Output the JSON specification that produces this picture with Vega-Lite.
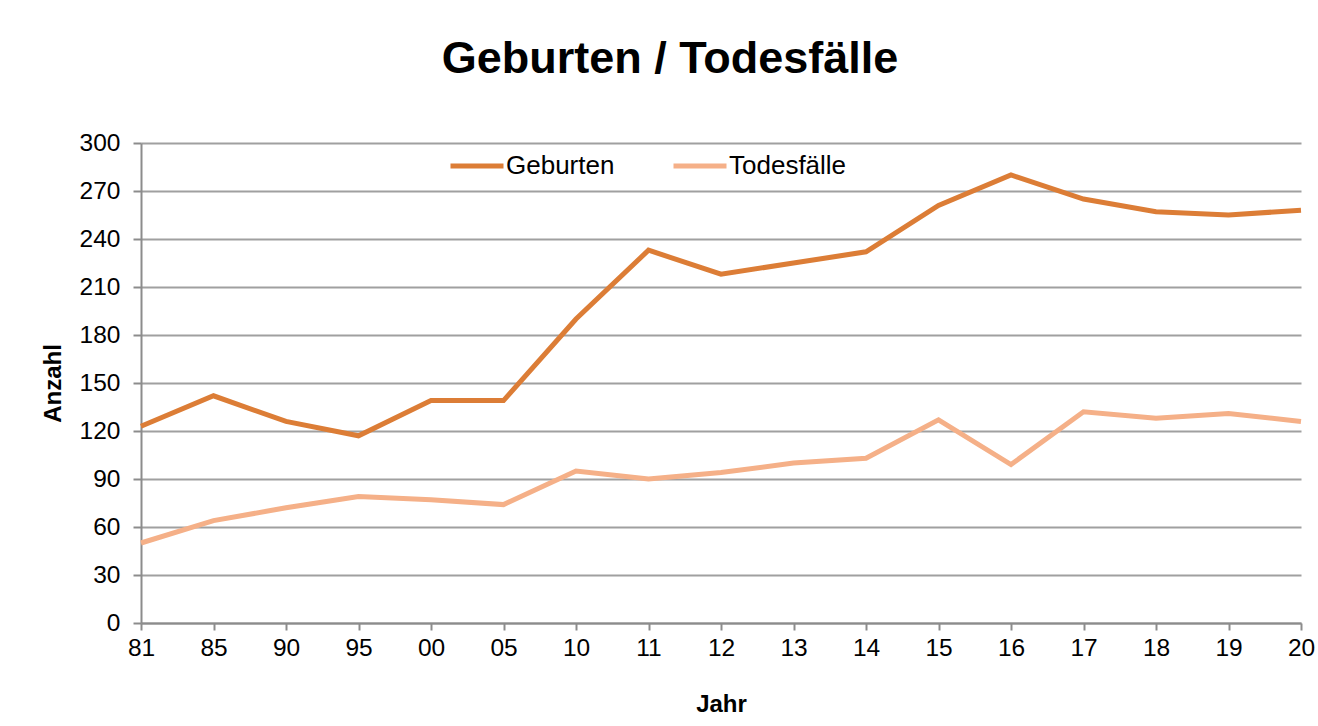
{
  "$schema": "https://vega.github.io/schema/vega-lite/v6.json",
  "width": 1160,
  "height": 480,
  "autosize": {"type": "none"},
  "padding": {"left": 141, "top": 143, "right": 17, "bottom": 103},
  "background": "white",
  "title": {
    "text": "Geburten / Todesfälle",
    "font": "Liberation Sans",
    "fontSize": 45,
    "fontWeight": "bold",
    "color": "black",
    "anchor": "middle",
    "dx": -51,
    "offset": 48
  },
  "config": {
    "view": {"stroke": null},
    "font": "Liberation Sans"
  },
  "data": {
    "values": [
      {"Jahr": "81", "Serie": "Geburten", "Anzahl": 123},
      {"Jahr": "85", "Serie": "Geburten", "Anzahl": 142},
      {"Jahr": "90", "Serie": "Geburten", "Anzahl": 126},
      {"Jahr": "95", "Serie": "Geburten", "Anzahl": 117},
      {"Jahr": "00", "Serie": "Geburten", "Anzahl": 139},
      {"Jahr": "05", "Serie": "Geburten", "Anzahl": 139},
      {"Jahr": "10", "Serie": "Geburten", "Anzahl": 190},
      {"Jahr": "11", "Serie": "Geburten", "Anzahl": 233},
      {"Jahr": "12", "Serie": "Geburten", "Anzahl": 218},
      {"Jahr": "13", "Serie": "Geburten", "Anzahl": 225},
      {"Jahr": "14", "Serie": "Geburten", "Anzahl": 232},
      {"Jahr": "15", "Serie": "Geburten", "Anzahl": 261},
      {"Jahr": "16", "Serie": "Geburten", "Anzahl": 280},
      {"Jahr": "17", "Serie": "Geburten", "Anzahl": 265},
      {"Jahr": "18", "Serie": "Geburten", "Anzahl": 257},
      {"Jahr": "19", "Serie": "Geburten", "Anzahl": 255},
      {"Jahr": "20", "Serie": "Geburten", "Anzahl": 258},
      {"Jahr": "81", "Serie": "Todesfälle", "Anzahl": 50},
      {"Jahr": "85", "Serie": "Todesfälle", "Anzahl": 64},
      {"Jahr": "90", "Serie": "Todesfälle", "Anzahl": 72},
      {"Jahr": "95", "Serie": "Todesfälle", "Anzahl": 79},
      {"Jahr": "00", "Serie": "Todesfälle", "Anzahl": 77},
      {"Jahr": "05", "Serie": "Todesfälle", "Anzahl": 74},
      {"Jahr": "10", "Serie": "Todesfälle", "Anzahl": 95},
      {"Jahr": "11", "Serie": "Todesfälle", "Anzahl": 90},
      {"Jahr": "12", "Serie": "Todesfälle", "Anzahl": 94},
      {"Jahr": "13", "Serie": "Todesfälle", "Anzahl": 100},
      {"Jahr": "14", "Serie": "Todesfälle", "Anzahl": 103},
      {"Jahr": "15", "Serie": "Todesfälle", "Anzahl": 127},
      {"Jahr": "16", "Serie": "Todesfälle", "Anzahl": 99},
      {"Jahr": "17", "Serie": "Todesfälle", "Anzahl": 132},
      {"Jahr": "18", "Serie": "Todesfälle", "Anzahl": 128},
      {"Jahr": "19", "Serie": "Todesfälle", "Anzahl": 131},
      {"Jahr": "20", "Serie": "Todesfälle", "Anzahl": 126}
    ]
  },
  "mark": {"type": "line", "strokeWidth": 5, "strokeJoin": "miter"},
  "encoding": {
    "x": {
      "field": "Jahr",
      "type": "ordinal",
      "sort": ["81","85","90","95","00","05","10","11","12","13","14","15","16","17","18","19","20"],
      "scale": {"type": "point", "padding": 0},
      "axis": {
        "title": "Jahr",
        "titleFont": "Liberation Sans",
        "titleFontSize": 24,
        "titleFontWeight": "bold",
        "titleColor": "black",
        "titlePadding": 33,
        "labelFont": "Liberation Sans",
        "labelFontSize": 24.5,
        "labelColor": "black",
        "labelAngle": 0,
        "labelPadding": 6,
        "labelOverlap": false,
        "labelBound": false,
        "labelFlush": false,
        "domainColor": "#8c8c8c",
        "domainWidth": 2,
        "tickColor": "#8c8c8c",
        "tickWidth": 2,
        "tickSize": 7,
        "grid": false
      }
    },
    "y": {
      "field": "Anzahl",
      "type": "quantitative",
      "scale": {"domain": [0, 300], "nice": false},
      "axis": {
        "title": "Anzahl",
        "titleFont": "Liberation Sans",
        "titleFontSize": 24,
        "titleFontWeight": "bold",
        "titleColor": "black",
        "titlePadding": 14,
        "values": [0,30,60,90,120,150,180,210,240,270,300],
        "labelFont": "Liberation Sans",
        "labelFontSize": 24.5,
        "labelColor": "black",
        "labelPadding": 13,
        "labelFlush": false,
        "labelBound": false,
        "domainColor": "#8c8c8c",
        "domainWidth": 2,
        "tickColor": "#8c8c8c",
        "tickWidth": 2,
        "tickSize": 8,
        "grid": true,
        "gridColor": "#a0a0a0",
        "gridWidth": 2
      }
    },
    "color": {
      "field": "Serie",
      "type": "nominal",
      "scale": {"domain": ["Geburten", "Todesfälle"], "range": ["#DC7D36", "#F5B088"]},
      "legend": {
        "title": null,
        "orient": "none",
        "direction": "horizontal",
        "legendX": 307,
        "legendY": -6,
        "symbolType": "stroke",
        "symbolSize": 2809,
        "symbolStrokeWidth": 5,
        "labelFont": "Liberation Sans",
        "labelFontSize": 26,
        "labelColor": "black",
        "labelOffset": 0,
        "columnPadding": 48
      }
    }
  }
}
